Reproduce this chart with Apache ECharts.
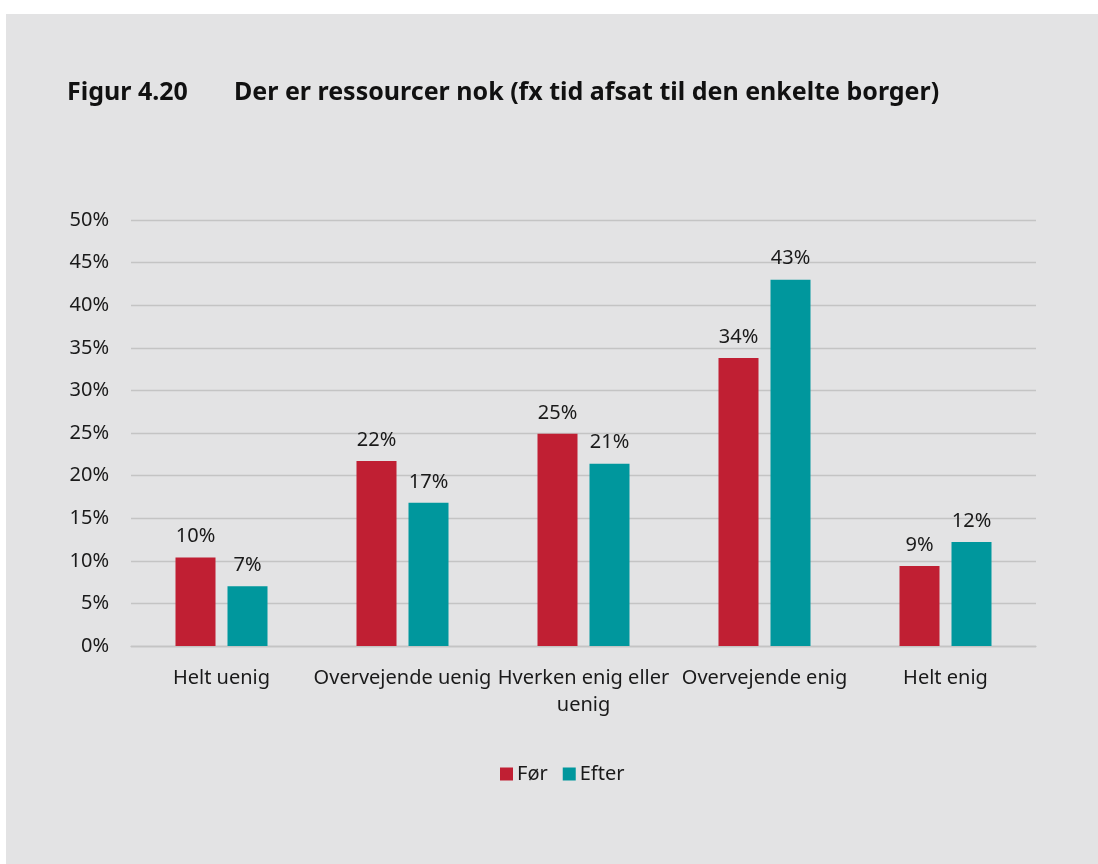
<!DOCTYPE html>
<html>
<head>
<meta charset="utf-8">
<script src="https://cdn.jsdelivr.net/npm/echarts@6/dist/echarts.min.js"></script>
<style>
  html, body { margin: 0; padding: 0; background: #ffffff; }
  #chart { position: absolute; left: 6px; top: 14px; width: 1092px; height: 850px; background: #e3e3e4; }
</style>
</head>
<body>
<div id="chart"></div>
<script>
const titleNumber = 'Figur 4.20';
const titleText = 'Der er ressourcer nok (fx tid afsat til den enkelte borger)';
const categories = ['Helt uenig', 'Overvejende uenig', 'Hverken enig eller\nuenig', 'Overvejende enig', 'Helt enig'];
const seriesNames = ['Før', 'Efter'];
const forValues = [10.4, 21.7, 24.9, 33.8, 9.4];
const efterValues = [7.0, 16.8, 21.4, 43.0, 12.2];
const colors = ['#c01f33', '#00979d'];

const font = '"Noto Sans", "Open Sans", sans-serif';
const chart = echarts.init(document.getElementById('chart'));
const labelStyle = {
  show: true, position: 'top', distance: 11,
  color: '#1a1a1a', fontSize: 20, fontFamily: font,
  formatter: p => Math.round(p.value) + '%'
};
chart.setOption({
  animation: false,
  color: colors,
  title: [
    { text: titleNumber, left: 61, top: 66, padding: 0, textStyle: { fontFamily: font, fontSize: 25, fontWeight: 'bold', color: '#111' } },
    { text: titleText, left: 228, top: 66, padding: 0, textStyle: { fontFamily: font, fontSize: 25, fontWeight: 'bold', color: '#111' } }
  ],
  legend: {
    data: seriesNames, bottom: 80, left: 494, padding: 0,
    itemWidth: 13, itemHeight: 13, itemGap: 15, icon: 'rect',
    textStyle: { fontFamily: font, fontSize: 20, color: '#1a1a1a', padding: [0, 0, 0, -1] }
  },
  grid: { left: 125, right: 62, top: 206, bottom: 218, containLabel: false },
  xAxis: {
    type: 'category', data: categories,
    axisLine: { show: true, lineStyle: { color: '#c4c4c4', width: 1.3 } },
    axisTick: { show: false },
    axisLabel: { fontFamily: font, fontSize: 20, color: '#1a1a1a', margin: 19, lineHeight: 27, interval: 0 }
  },
  yAxis: {
    type: 'value', min: 0, max: 50, interval: 5,
    axisLine: { show: false }, axisTick: { show: false },
    splitLine: { lineStyle: { color: '#c4c4c4', width: 1.3 } },
    axisLabel: { fontFamily: font, fontSize: 20, color: '#1a1a1a', margin: 22, formatter: '{value}%' }
  },
  series: [
    { name: seriesNames[0], type: 'bar', data: forValues, barWidth: 40, barGap: '30%', label: labelStyle },
    { name: seriesNames[1], type: 'bar', data: efterValues, barWidth: 40, barGap: '30%', label: labelStyle }
  ]
});
</script>
</body>
</html>
